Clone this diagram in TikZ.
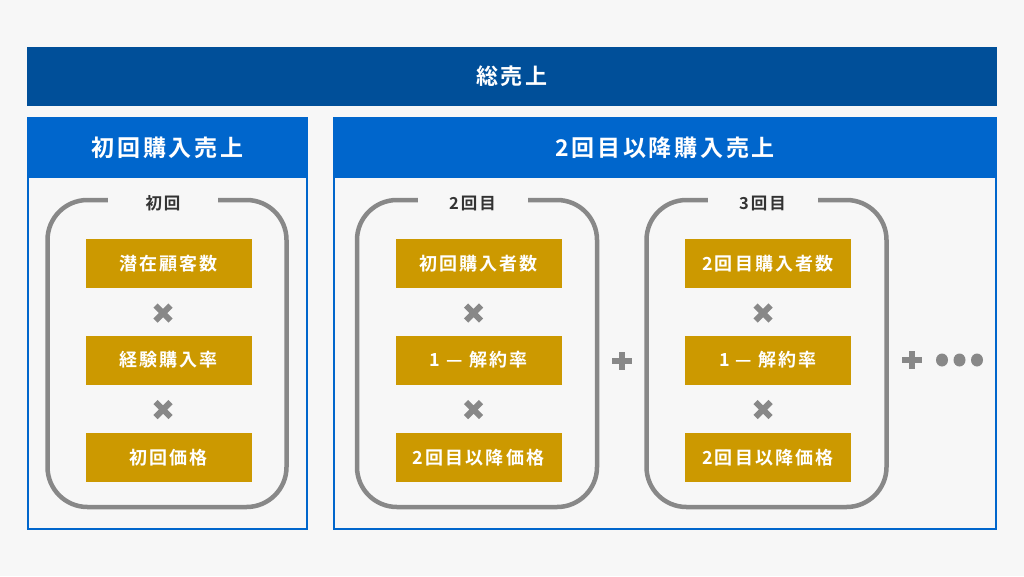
\documentclass[tikz,border=0pt]{standalone}
\usepackage{fontspec}
\newfontfamily\jpf{Noto Sans CJK JP Bold}[LetterSpace=12]
\definecolor{bg}{HTML}{F7F7F7}
\definecolor{topblue}{HTML}{004F99}
\definecolor{hblue}{HTML}{0066CC}
\definecolor{gold}{HTML}{CC9900}
\definecolor{symgray}{HTML}{888888}
\definecolor{lblgray}{HTML}{333333}
\tikzset{
  topbar/.style={fill=topblue, draw=none, inner sep=0, text=white, font=\jpf\fontsize{22}{22}\selectfont},
  panel/.style={draw=hblue, line width=2, fill=bg, inner sep=0},
  header/.style={fill=hblue, draw=none, inner sep=0, text=white, font=\jpf\fontsize{23}{23}\selectfont},
  roundbox/.style={draw=symgray, line width=4.5, rounded corners=40, inner sep=0},
  lbl/.style={fill=bg, inner sep=0, minimum width=110, minimum height=18, text=lblgray, font=\jpf\fontsize{16.5}{16.5}\selectfont},
  goldbox/.style={fill=gold, draw=none, inner sep=0, minimum width=166, minimum height=49, text=white, font=\jpf\fontsize{18}{18}\selectfont},
  timessym/.pic={\draw[symgray, line width=6] (-7.5,-7.5)--(7.5,7.5) (-7.5,7.5)--(7.5,-7.5);},
  plussym/.pic={\draw[symgray, line width=6] (-10,0)--(10,0) (0,-9)--(0,9);},
  dotsym/.pic={\fill[symgray] (0,0) ellipse (6 and 6.5);}
}
\begin{document}
\begin{tikzpicture}[x=1pt,y=-1pt]
\useasboundingbox[fill=bg] (0,0) rectangle (1024,576);
% top bar
\node[topbar, minimum width=970, minimum height=59] (total) at (512,76.5) {総売上};
% panels
\node[panel, minimum width=279, minimum height=411] (p1) at (167.5,323.5) {};
\node[header, minimum width=279, minimum height=60] (h1) at (167.5,148) {初回購入売上};
\node[panel, minimum width=662, minimum height=411] (p2) at (665,323.5) {};
\node[header, minimum width=662, minimum height=60] (h2) at (665,148) {2回目以降購入売上};
% rounded groups
\node[roundbox, minimum width=239, minimum height=307] (r1) at (167,353.5) {};
\node[roundbox, minimum width=240, minimum height=307] (r2) at (477,353.5) {};
\node[roundbox, minimum width=240, minimum height=307] (r3) at (766.5,353.5) {};
\node[lbl] (l1) at (163,203) {初回};
\node[lbl] (l2) at (472.5,203) {2回目};
\node[lbl] (l3) at (762.5,203) {3回目};
% gold boxes
\node[goldbox] (a1) at (168.5,263.5) {潜在顧客数};
\node[goldbox] (a2) at (168.5,360) {経験購入率};
\node[goldbox] (a3) at (168.5,457.5) {初回価格};
\node[goldbox] (b1) at (478.5,263.5) {初回購入者数};
\node[goldbox] (b2) at (478.5,360) {1 — 解約率};
\node[goldbox] (b3) at (478.5,457.5) {2回目以降価格};
\node[goldbox] (c1) at (768,263.5) {2回目購入者数};
\node[goldbox] (c2) at (768,360) {1 — 解約率};
\node[goldbox] (c3) at (768,457.5) {2回目以降価格};
% symbols
\pic at (163,313) {timessym};
\pic at (163,409.5) {timessym};
\pic at (473.5,313) {timessym};
\pic at (473.5,409.5) {timessym};
\pic at (763,313) {timessym};
\pic at (763,409.5) {timessym};
\pic at (622,361) {plussym};
\pic at (912,360) {plussym};
\pic at (942,360) {dotsym};
\pic at (959.5,360) {dotsym};
\pic at (977,360) {dotsym};
\end{tikzpicture}
\end{document}
